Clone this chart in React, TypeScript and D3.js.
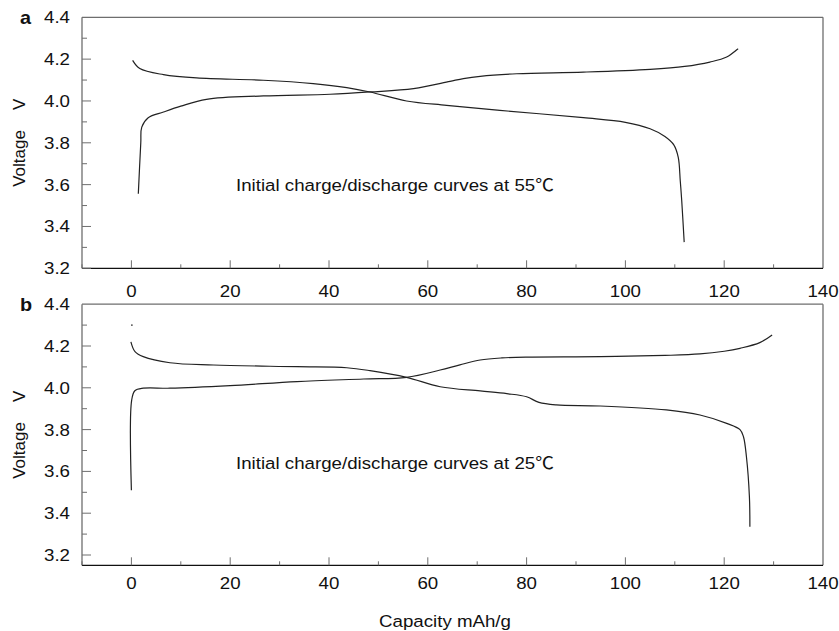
import React from "react";
import * as d3 from "d3";

// ---- data ----
const capA_charge = [1.4, 1.9, 2.1, 3.4, 6.5, 10, 15.2, 26.7, 40.2, 48.3, 57.1, 64.5, 67.2, 70.6, 78, 91.5, 105, 112, 117.1, 120.5, 122.8];
const vA_charge = [3.556, 3.8, 3.875, 3.92, 3.947, 3.975, 4.008, 4.024, 4.032, 4.043, 4.059, 4.094, 4.107, 4.118, 4.13, 4.138, 4.151, 4.165, 4.186, 4.21, 4.25];
const capA_dis = [0.25, 1.7, 6.5, 13.2, 26.7, 36.8, 43.6, 48.3, 55.7, 63.8, 74.6, 91.5, 100, 105, 108, 109.8, 110.7, 111.1, 111.4, 111.9];
const vA_dis = [4.194, 4.155, 4.126, 4.11, 4.099, 4.083, 4.064, 4.043, 4.0, 3.979, 3.955, 3.92, 3.898, 3.867, 3.83, 3.79, 3.73, 3.62, 3.524, 3.325];

const capB_charge = [0, 0.05, 0.7, 2.4, 7.8, 20, 33.5, 47, 55.7, 62.5, 66.5, 70.6, 75, 80, 95, 108, 115.1, 120, 123.2, 127.2, 129.7];
const vB_charge = [3.51, 3.94, 3.986, 3.998, 3.998, 4.01, 4.03, 4.042, 4.05, 4.085, 4.11, 4.133, 4.143, 4.147, 4.149, 4.155, 4.162, 4.175, 4.189, 4.216, 4.253];
const capB_dis = [-0.1, 0.73, 2.4, 7.8, 16.6, 33.5, 43.6, 48.3, 55.7, 62.5, 70.6, 76, 80, 82.5, 86, 94.9, 108.3, 115.1, 120.5, 123.2, 123.9, 124.5, 125.1, 125.2];
const vB_dis = [4.22, 4.173, 4.149, 4.12, 4.109, 4.101, 4.096, 4.082, 4.05, 4.005, 3.985, 3.972, 3.957, 3.93, 3.918, 3.913, 3.894, 3.87, 3.83, 3.8, 3.766, 3.67, 3.48, 3.335];
const dotB = [0.1, 4.3];

const xTicksMajor = [0, 20, 40, 60, 80, 100, 120, 140];
const xTicksMinor = [-10, 10, 30, 50, 70, 90, 110, 130];
const yTicksMajor = [3.2, 3.4, 3.6, 3.8, 4.0, 4.2, 4.4];
const yTicksMinor = [3.3, 3.5, 3.7, 3.9, 4.1, 4.3];

const W = 839, H = 631;
const LEFT = 82, RIGHT = 823;
const FONT = "'Liberation Sans', Arial, Helvetica, sans-serif";
const SX = 1.1;

const x = d3.scaleLinear().domain([-10, 140]).range([LEFT, RIGHT]);

function T({ x, y, anchor = "start", size = 17, bold = false, children }: any) {
  return (
    <text
      transform={`translate(${x},${y}) scale(${SX},1)`}
      textAnchor={anchor}
      fontSize={size}
      fontWeight={bold ? "bold" : "normal"}
      fontFamily={FONT}
      fill="#111"
    >
      {children}
    </text>
  );
}

interface PanelProps {
  top: number;
  bottom: number;
  y3_2: number;
  label: string;
  note: string;
  noteY: number;
  xLabOff: number;
  series: { cap: number[]; v: number[] }[];
  dot?: number[];
}

function Panel({ top, bottom, y3_2, label, note, noteY, xLabOff, series, dot }: PanelProps) {
  const y = d3.scaleLinear().domain([3.2, 4.4]).range([y3_2, top]);
  const line = d3
    .line<[number, number]>()
    .x((d) => x(d[0]))
    .y((d) => y(d[1]))
    .curve(d3.curveCatmullRom.alpha(0.5));
  const axisGray = "#6e6e6e";
  return (
    <g>
      {/* frame */}
      <line x1={LEFT} x2={RIGHT} y1={top} y2={top} stroke={axisGray} strokeWidth={1.3} />
      <line x1={RIGHT} x2={RIGHT} y1={top} y2={bottom} stroke={axisGray} strokeWidth={1.3} />
      <line x1={LEFT} x2={LEFT} y1={top} y2={bottom} stroke={axisGray} strokeWidth={1.3} />
      <line x1={LEFT} x2={RIGHT} y1={bottom} y2={bottom} stroke="#111" strokeWidth={1.3} />
      {/* x ticks */}
      {xTicksMajor.map((t) => (
        <g key={"xm" + t}>
          {t < 140 && <line x1={x(t)} x2={x(t)} y1={bottom} y2={bottom - 8} stroke={axisGray} strokeWidth={1} />}
          <T x={x(t)} y={bottom + xLabOff} anchor="middle">
            {t}
          </T>
        </g>
      ))}
      {xTicksMinor.map((t) => (
        <line key={"xn" + t} x1={x(t)} x2={x(t)} y1={bottom} y2={bottom - 4} stroke={axisGray} strokeWidth={1} />
      ))}
      {/* y ticks */}
      {yTicksMajor.map((t) => (
        <g key={"ym" + t}>
          {t < 4.4 && <line x1={LEFT} x2={LEFT + 9} y1={y(t)} y2={y(t)} stroke={axisGray} strokeWidth={1} />}
          <T x={70} y={y(t) + 6} anchor="end">
            {t.toFixed(1)}
          </T>
        </g>
      ))}
      {yTicksMinor.map((t) => (
        <line key={"yn" + t} x1={LEFT} x2={LEFT + 5} y1={y(t)} y2={y(t)} stroke={axisGray} strokeWidth={1} />
      ))}
      {/* curves */}
      {series.map((s, i) => (
        <path
          key={i}
          d={line(s.cap.map((c, j) => [c, s.v[j]] as [number, number])) || ""}
          fill="none"
          stroke="#222"
          strokeWidth={1.2}
        />
      ))}
      {dot && <circle cx={x(dot[0])} cy={y(dot[1])} r={0.9} fill="#444" />}
      {/* labels */}
      <T x={20} y={top + 7} size={18} bold>
        {label}
      </T>
      <text
        transform={`translate(25, ${(top + bottom) / 2}) rotate(-90)`}
        textAnchor="middle"
        fontSize={17}
        fontFamily={FONT}
        fill="#111"
      >
        Voltage<tspan dx={20}>V</tspan>
      </text>
      <T x={236} y={noteY}>
        {note}
        <tspan fontFamily="'Noto Sans CJK SC', sans-serif">℃</tspan>
      </T>
    </g>
  );
}

export default function App() {
  return (
    <svg width={W} height={H} style={{ position: "absolute", left: 0, top: 0, background: "#fff" }}>
      <rect width={W} height={H} fill="#fff" />
      <Panel
        top={17.3}
        bottom={268.3}
        y3_2={268.3}
        label="a"
        note="Initial charge/discharge curves at 55"
        noteY={191}
        xLabOff={28.5}
        series={[
          { cap: capA_charge, v: vA_charge },
          { cap: capA_dis, v: vA_dis },
        ]}
      />
      <Panel
        top={304.2}
        bottom={565.3}
        y3_2={555}
        label="b"
        note="Initial charge/discharge curves at 25"
        noteY={469}
        xLabOff={24}
        series={[
          { cap: capB_charge, v: vB_charge },
          { cap: capB_dis, v: vB_dis },
        ]}
        dot={dotB}
      />
      <T x={445} y={627} anchor="middle">
        Capacity mAh/g
      </T>
    </svg>
  );
}
